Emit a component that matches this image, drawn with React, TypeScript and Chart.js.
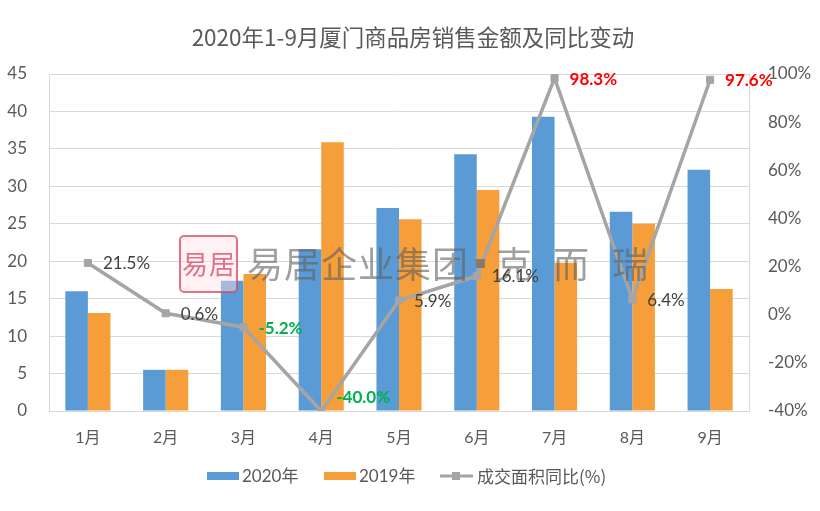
import React, { useEffect, useRef } from "react";
import { Chart, registerables } from "chart.js";
Chart.register(...registerables);

const months = ["1月", "2月", "3月", "4月", "5月", "6月", "7月", "8月", "9月"];
const sales2020 = [16.0, 5.5, 17.4, 21.6, 27.1, 34.3, 39.3, 26.6, 32.2];
const sales2019 = [13.1, 5.5, 18.3, 35.9, 25.6, 29.5, 19.8, 25.0, 16.3];
const yoyArea = [21.5, 0.6, -5.2, -40.0, 5.9, 16.1, 98.3, 6.4, 97.6];
const seriesNames = ["2020年", "2019年", "成交面积同比(%)"];
const titleText = "2020年1-9月厦门商品房销售金额及同比变动";
const watermarkText = "易居企业集团·克而瑞";

const BLUE = "#5B9BD5";
const ORANGE = "#F69E3A";
const GRAY = "#A5A5A5";
const TXT = "#595959";
const NUMFONT = "Lato, 'Noto Sans CJK SC', sans-serif";
const CJKFONT = "'Noto Sans CJK SC', sans-serif";

const decorPlugin = {
  id: "decor",
  afterDatasetsDraw(chart: any) {
    const ctx = chart.ctx;
    const area = chart.chartArea;
    ctx.save();
    const lx = 180, ly = 236, lw = 57, lh = 56;
    ctx.fillStyle = "rgba(255,225,230,0.45)";
    ctx.strokeStyle = "rgba(215,70,95,0.75)";
    ctx.lineWidth = 2;
    ctx.beginPath();
    ctx.roundRect(lx, ly, lw, lh, 4);
    ctx.fill();
    ctx.stroke();
    ctx.fillStyle = "rgba(215,70,95,0.75)";
    ctx.font = `26px ${CJKFONT}`;
    ctx.textAlign = "center";
    ctx.textBaseline = "middle";
    ctx.fillText("易", lx + 15, ly + lh / 2);
    ctx.fillText("居", lx + 42, ly + lh / 2);
    const chars = Array.from(watermarkText);
    const xs = [247, 284, 321, 358, 395, 432, 466, 496, 553, 612];
    ctx.fillStyle = "rgba(95,95,95,0.6)";
    ctx.font = `36px ${CJKFONT}`;
    ctx.textAlign = "left";
    chars.forEach((c, i) => {
      if (c === "·") {
        ctx.fillRect(xs[i] + 10, 259, 9, 9);
      } else {
        ctx.fillText(c, xs[i], 264);
      }
    });
    ctx.restore();

    const meta = chart.getDatasetMeta(2);
    ctx.save();
    ctx.textAlign = "left";
    ctx.textBaseline = "middle";
    meta.data.forEach((pt: any, i: number) => {
      const v = yoyArea[i];
      let color = "#404040";
      let weight = "normal";
      if (v < 0) { color = "#00B050"; weight = "bold"; }
      else if (v > 90) { color = "#FF0000"; weight = "bold"; }
      ctx.font = `${weight} 17px ${NUMFONT}`;
      ctx.fillStyle = color;
      let y = pt.y;
      if (y > area.bottom - 14) y = area.bottom - 14;
      ctx.fillText(v.toFixed(1) + "%", pt.x + 15, y + 1);
    });
    ctx.restore();
  },
  afterDraw(chart: any) {
    const ctx = chart.ctx;
    ctx.save();
    ctx.fillStyle = TXT;
    ctx.font = `22.5px ${CJKFONT}`;
    ctx.textAlign = "center";
    ctx.textBaseline = "middle";
    ctx.fillText(titleText, 413, 37);
    const ly = 476;
    ctx.textAlign = "left";
    ctx.font = `17px ${NUMFONT}`;
    ctx.fillStyle = BLUE;
    ctx.fillRect(207, ly - 4, 32, 8);
    ctx.fillStyle = TXT;
    ctx.fillText(seriesNames[0], 242, ly + 1);
    ctx.fillStyle = ORANGE;
    ctx.fillRect(324, ly - 4, 32, 8);
    ctx.fillStyle = TXT;
    ctx.fillText(seriesNames[1], 359, ly + 1);
    ctx.strokeStyle = GRAY;
    ctx.lineWidth = 3;
    ctx.beginPath();
    ctx.moveTo(440, ly);
    ctx.lineTo(473, ly);
    ctx.stroke();
    ctx.fillStyle = GRAY;
    ctx.fillRect(452, ly - 4, 8, 8);
    ctx.fillStyle = TXT;
    ctx.font = `17px ${CJKFONT}`;
    ctx.fillText(seriesNames[2], 477, ly + 1);
    ctx.restore();
  },
};

export default function App() {
  const ref = useRef<HTMLCanvasElement>(null);
  useEffect(() => {
    if (!ref.current) return;
    const chart = new Chart(ref.current, {
      type: "bar",
      data: {
        labels: months,
        datasets: [
          {
            type: "bar",
            label: seriesNames[0],
            data: sales2020,
            backgroundColor: BLUE,
            yAxisID: "y",
            order: 1,
            categoryPercentage: 0.58,
            barPercentage: 1.0,
          },
          {
            type: "bar",
            label: seriesNames[1],
            data: sales2019,
            backgroundColor: ORANGE,
            yAxisID: "y",
            order: 1,
            categoryPercentage: 0.58,
            barPercentage: 1.0,
          },
          {
            type: "line",
            label: seriesNames[2],
            data: yoyArea,
            borderColor: GRAY,
            backgroundColor: GRAY,
            borderWidth: 3.5,
            pointStyle: "rect",
            pointRadius: 5,
            pointBorderWidth: 1,
            pointBackgroundColor: GRAY,
            pointBorderColor: GRAY,
            yAxisID: "y1",
            order: 0,
            tension: 0,
          } as any,
        ],
      },
      options: {
        responsive: false,
        animation: false,
        layout: { padding: { top: 74, bottom: 50, left: 0, right: 0 } },
        plugins: {
          legend: { display: false },
          title: { display: false },
          tooltip: { enabled: false },
        },
        scales: {
          x: {
            grid: { display: false, drawTicks: false },
            border: { display: true, color: "#D9D9D9" },
            ticks: { color: TXT, font: { size: 16, family: NUMFONT }, padding: 17 },
            afterFit(s: any) { s.height = 50; },
          },
          y: {
            position: "left",
            min: 0,
            max: 45,
            ticks: { stepSize: 5, color: TXT, font: { size: 17, family: NUMFONT }, padding: 22 },
            grid: { color: "#D9D9D9", drawTicks: false },
            border: { display: true, color: "#D9D9D9" },
            afterFit(s: any) { s.width = 49; },
          },
          y1: {
            position: "right",
            min: -40,
            max: 100,
            ticks: {
              stepSize: 20,
              color: TXT,
              font: { size: 17, family: NUMFONT },
              padding: 19,
              callback: (v: any) => v + "%",
            },
            grid: { display: false, drawTicks: false },
            border: { display: true, color: "#D9D9D9" },
            afterFit(s: any) { s.width = 71; },
          },
        },
      },
      plugins: [decorPlugin],
    });
    return () => chart.destroy();
  }, []);
  return (
    <div style={{ position: "absolute", left: 0, top: 0, width: 820, height: 511, background: "#fff" }}>
      <canvas ref={ref} width={820} height={511} />
    </div>
  );
}
